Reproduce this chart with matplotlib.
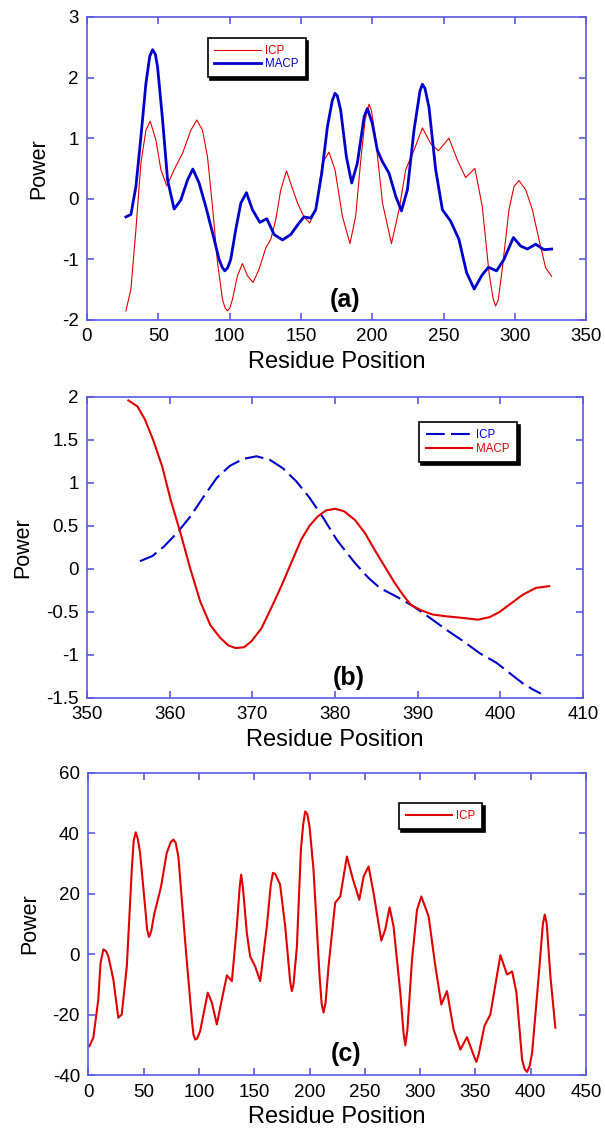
import matplotlib
matplotlib.use("Agg")
import matplotlib.pyplot as plt

plt.rcParams["font.family"] = ["Liberation Sans", "DejaVu Sans"]
plt.rcParams["axes.unicode_minus"] = False

# Панель (a): ICP та MACP
a_icp_x = [27.3, 30.8, 34.3, 37.8, 41.3, 44.3, 48.3, 51.8, 56.0, 61.1, 67.0, 72.8,
           77.0, 81.0, 84.5, 88.0, 91.5, 95.0, 96.8, 98.5, 100.2, 102.0, 105.5, 109.0, 112.5,
           116.5, 120.7, 125.4, 128.9, 132.4, 135.9, 139.9, 143.6, 147.6, 152.2,
           156.2, 160.4, 165.1, 169.7, 173.9, 179.1, 184.4, 188.4, 191.9, 195.0,
           196.5, 197.8, 199.5, 202.5, 207.2, 213.5, 218.8, 223.5, 229.3, 235.2, 241.0, 246.4,
           253.8, 259.7, 265.5, 272.0, 277.2, 281.9, 284.8, 286.5, 288.3, 291.2, 295.9, 299.4,
           302.9, 307.6, 312.3, 316.9, 321.6, 325.8]
a_icp_y = [-1.85, -1.49, -0.51, 0.59, 1.13, 1.28, 0.97, 0.48, 0.21, 0.48, 0.75, 1.13,
           1.30, 1.13, 0.69, -0.13, -1.05, -1.66, -1.80, -1.85, -1.80, -1.66, -1.27, -1.07, -1.27,
           -1.38, -1.16, -0.81, -0.67, -0.34, 0.15, 0.46, 0.20, -0.07, -0.30,
           -0.40, -0.18, 0.59, 0.77, 0.48, -0.29, -0.74, -0.29, 0.62, 1.30,
           1.45, 1.56, 1.45, 0.97, -0.07, -0.74, -0.18, 0.48, 0.80, 1.17, 0.91, 0.79,
           1.00, 0.64, 0.35, 0.50, -0.13, -1.22, -1.65, -1.77, -1.68, -1.16, -0.18, 0.20,
           0.30, 0.15, -0.18, -0.67, -1.14, -1.28]

a_macp_x = [27.3, 30.8, 34.3, 37.8, 41.3, 44.0, 46.0, 48.0, 49.5, 53.0, 56.5, 61.1, 65.8, 70.5,
            74.2, 78.6, 83.3, 88.0, 92.6, 94.8, 96.6, 98.6, 100.8, 104.3, 107.9, 111.8, 116.0,
            121.2, 126.1, 131.2, 137.1, 142.9, 148.7, 152.2, 156.9, 160.4, 164.6,
            168.6, 172.0, 173.9, 175.5, 177.9, 181.9, 185.6, 189.6, 194.3, 196.6, 200.1, 203.6,
            207.2, 211.8, 216.5, 220.5, 224.7, 229.3, 233.5, 235.2, 237.0, 239.8, 244.5, 249.2,
            255.0, 260.8, 266.2, 271.5, 277.0, 281.5, 287.2, 292.4, 299.0, 304.1,
            308.8, 314.6, 320.4, 325.8]
a_macp_y = [-0.30, -0.26, 0.20, 1.02, 1.90, 2.35, 2.46, 2.38, 2.17, 1.30, 0.31, -0.17, -0.02, 0.31,
            0.49, 0.26, -0.13, -0.56, -1.00, -1.13, -1.19, -1.14, -1.00, -0.51, -0.07, 0.10, -0.18,
            -0.39, -0.33, -0.59, -0.68, -0.59, -0.40, -0.30, -0.32, -0.18, 0.42,
            1.19, 1.62, 1.74, 1.70, 1.46, 0.69, 0.26, 0.59, 1.35, 1.49, 1.24, 0.80,
            0.61, 0.42, 0.04, -0.20, 0.15, 1.13, 1.78, 1.89, 1.82, 1.51, 0.48, -0.18,
            -0.37, -0.67, -1.22, -1.49, -1.26, -1.13, -1.19, -1.00, -0.64, -0.78,
            -0.83, -0.75, -0.84, -0.83]

# Панель (b)
b_icp_x = [356.4, 357.9, 359.3, 360.9, 362.5, 364.1, 365.7, 367.3, 368.9, 370.5,
           372.1, 373.7, 375.3, 376.9, 378.6, 380.2, 381.0, 382.4, 384.0, 385.4,
           387.4, 389.4, 391.5, 393.5, 395.5, 397.5, 399.5, 401.1, 402.7, 403.9, 404.9]
b_icp_y = [0.09, 0.15, 0.26, 0.42, 0.61, 0.84, 1.06, 1.20, 1.28, 1.31,
           1.27, 1.17, 1.02, 0.83, 0.59, 0.34, 0.24, 0.07, -0.10, -0.22,
           -0.32, -0.43, -0.57, -0.71, -0.84, -0.98, -1.09, -1.21, -1.33, -1.40, -1.45]

b_macp_x = [355.0, 356.1, 357.0, 358.0, 359.1, 360.1, 361.3, 362.5, 363.7, 364.9,
            366.1, 367.1, 368.0, 369.0, 369.9, 371.1, 372.3, 373.5, 374.7, 375.9,
            376.9, 377.9, 378.9, 380.0, 381.1, 382.4, 383.6, 384.8, 386.0, 387.2,
            388.2, 389.2, 390.4, 391.8, 393.4, 395.5, 397.3, 398.7, 399.9, 401.3,
            402.7, 404.3, 405.9]
b_macp_y = [1.96, 1.89, 1.74, 1.50, 1.19, 0.81, 0.42, 0.00, -0.38, -0.65,
            -0.80, -0.89, -0.92, -0.91, -0.84, -0.69, -0.45, -0.20, 0.07, 0.34,
            0.50, 0.61, 0.68, 0.70, 0.67, 0.57, 0.42, 0.22, 0.03, -0.16,
            -0.30, -0.42, -0.48, -0.53, -0.55, -0.57, -0.59, -0.56, -0.50, -0.40,
            -0.30, -0.22, -0.20]

# Панель (c)
c_icp_x = [0.9, 4.5, 9.0, 11.0, 13.6, 16.0, 18.1, 22.6, 27.1, 30.2, 34.8, 39.3, 41.0, 42.9,
           44.8, 46.8, 51.3, 53.2, 54.9, 56.8, 59.5, 65.8, 70.9, 74.5, 76.9, 79.0, 81.4,
           88.4, 93.6, 95.0, 96.6, 98.5, 101.1, 108.0, 111.7, 116.2, 120.7, 125.3,
           129.8, 134.3, 136.8, 138.2, 139.8, 143.3, 146.3, 150.8, 155.4, 161.4, 165.0,
           166.9, 169.0, 173.4, 178.0, 182.5, 184.0, 185.5, 188.6, 192.2, 194.3, 196.1,
           198.0, 200.0, 203.6, 209.1, 211.0, 212.7, 214.5, 217.2, 223.2, 227.8, 233.8,
           239.3, 245.0, 248.9, 253.4, 257.9, 264.9, 268.5, 272.4, 276.0, 282.1, 285.0,
           286.6, 288.5, 292.7, 297.2, 301.1, 307.7, 313.8, 319.2, 324.3, 330.3, 336.4,
           342.4, 349.0, 350.9, 353.0, 358.1, 363.5, 372.6, 378.6, 383.2, 387.1, 392.2,
           394.5, 396.7, 399.0, 401.3, 407.2, 411.0, 412.7, 414.5, 417.8, 422.3]
c_icp_y = [-30.4, -27.6, -15.0, -3.0, 1.6, 1.0, -0.7, -8.3, -21.0, -19.9, -4.0, 28.0, 37.5, 40.3,
           38.0, 33.5, 15.8, 8.0, 5.7, 7.5, 13.1, 22.4, 33.5, 37.0, 37.9, 36.8, 32.3,
           0.5, -21.5, -26.5, -28.2, -27.8, -25.4, -12.7, -16.0, -23.2, -15.0, -7.0,
           -8.9, 9.2, 22.0, 26.3, 22.0, 7.1, -0.7, -4.0, -8.9, 9.2, 23.0,
           26.9, 26.5, 23.0, 9.2, -9.0, -12.2, -10.0, 2.6, 34.6, 43.0, 47.2,
           46.3, 42.2, 28.0, -7.3, -16.5, -19.3, -16.0, -4.0, 17.0, 19.1, 32.3,
           24.7, 18.0, 25.7, 29.0, 20.3, 4.5, 8.2, 15.5, 9.2, -12.7, -26.0,
           -30.1, -25.0, -1.7, 14.7, 19.1, 12.5, -4.0, -16.6, -12.2, -24.9, -31.5,
           -27.4, -34.0, -35.6, -33.0, -23.8, -19.9, -0.3, -6.7, -5.7, -12.7, -34.8,
           -38.0, -38.9, -37.0, -32.5, -7.3, 10.0, 13.1, 10.0, -7.3, -24.3]

red = "#e00000"
blue = "#0000cc"
frame_blue = "#5a5ae6"

fig = plt.figure(figsize=(6.05, 11.29), dpi=100)
ax_a = fig.add_axes([0.1438, 0.7166, 0.825, 0.2684])
ax_b = fig.add_axes([0.1438, 0.3818, 0.820, 0.2666])
ax_c = fig.add_axes([0.1460, 0.0476, 0.8226, 0.2680])


def style_axes(ax):
    for s in ax.spines.values():
        s.set_color(frame_blue)
        s.set_linewidth(1.2)
    ax.tick_params(direction="in", top=True, right=True, length=5, width=1.2,
                   color=frame_blue, labelsize=13.5, labelcolor="black", pad=6)
    ax.set_xlabel("Residue Position", fontsize=17, labelpad=4)
    ax.set_ylabel("Power", fontsize=15.5, labelpad=9)


def add_legend(ax, loc_xy):
    leg = ax.legend(loc="upper left", bbox_to_anchor=loc_xy, fontsize=8.3,
                    labelcolor="linecolor", fancybox=False, edgecolor="black",
                    framealpha=1, handlelength=4.0, borderpad=0.6,
                    labelspacing=0.15, handletextpad=0.4,
                    shadow={"color": "black", "alpha": 1.0})
    leg.get_frame().set_linewidth(1.2)
    return leg


# (a)
ax_a.plot(a_icp_x, a_icp_y, color=red, lw=0.8, label="ICP", solid_joinstyle="round")
ax_a.plot(a_macp_x, a_macp_y, color=blue, lw=2.0, label="MACP", solid_joinstyle="round")
ax_a.set_xlim(0, 350)
ax_a.set_ylim(-2, 3)
ax_a.set_xticks(range(0, 351, 50))
ax_a.set_yticks(range(-2, 4))
style_axes(ax_a)
add_legend(ax_a, (0.23, 0.95))
ax_a.text(0.517, 0.066, "(a)", transform=ax_a.transAxes, ha="center", va="center",
          fontsize=18, fontweight="bold")

# (b)
ax_b.plot(b_icp_x, b_icp_y, color=blue, lw=1.5, dashes=(9, 3), label="ICP")
ax_b.plot(b_macp_x, b_macp_y, color=red, lw=1.5, label="MACP", solid_joinstyle="round")
ax_b.set_xlim(350, 410)
ax_b.set_ylim(-1.5, 2)
ax_b.set_xticks(range(350, 411, 10))
ax_b.set_yticks([-1.5, -1, -0.5, 0, 0.5, 1, 1.5, 2])
ax_b.set_yticklabels(["-1.5", "-1", "-0.5", "0", "0.5", "1", "1.5", "2"])
style_axes(ax_b)
add_legend(ax_b, (0.657, 0.935))
ax_b.text(0.528, 0.066, "(b)", transform=ax_b.transAxes, ha="center", va="center",
          fontsize=18, fontweight="bold")

# (c)
ax_c.plot(c_icp_x, c_icp_y, color=red, lw=1.5, label="ICP", solid_joinstyle="round")
ax_c.set_xlim(0, 450)
ax_c.set_ylim(-40, 60)
ax_c.set_xticks(range(0, 451, 50))
ax_c.set_yticks(range(-40, 61, 20))
style_axes(ax_c)
add_legend(ax_c, (0.612, 0.918))
ax_c.text(0.517, 0.07, "(c)", transform=ax_c.transAxes, ha="center", va="center",
          fontsize=18, fontweight="bold")

fig.savefig("out.png", dpi=100)
